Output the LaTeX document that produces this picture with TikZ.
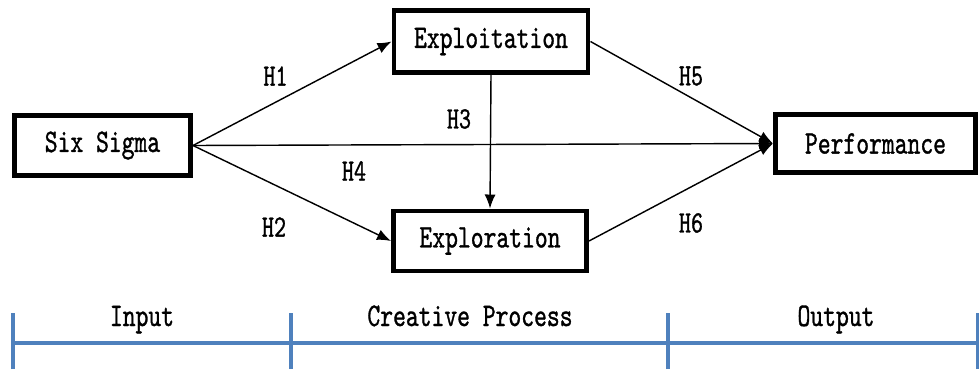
\documentclass[tikz,border=0pt]{standalone}
\usepackage{fontspec}
\newfontfamily\boxfont[Extension=.otf, FakeStretch=0.74, FakeBold=1]{lmmono10-regular}
\usetikzlibrary{arrows.meta}
\definecolor{axisblue}{RGB}{79,129,189}
\tikzset{
	varbox/.style={draw, line width=1.75mm, fill=white, inner sep=0pt, font=\boxfont\fontsize{33}{36}\selectfont},
	hlink/.style={line width=0.5mm, -{Latex[length=14pt, width=11pt]}},
	hlabel/.style={font=\boxfont\fontsize{31}{36}\selectfont},
	phase/.style={anchor=base, font=\boxfont\fontsize{33}{36}\selectfont}
}
\begin{document}
\begin{tikzpicture}[x=1pt, y=-1pt]
			%%%%% FRAME %%%%%
			\useasboundingbox (0, 0) rectangle (979, 373);
			
			%%%%% VARIABLES %%%%%
			\node[varbox, minimum width=176, minimum height=60] (sigma) at (102.5, 145.5) {Six Sigma};
			\node[varbox, minimum width=194, minimum height=62] (exploit) at (491, 41.5) {Exploitation};
			\node[varbox, minimum width=193, minimum height=60] (explore) at (490, 241) {Exploration};
			\node[varbox, minimum width=200, minimum height=58] (perf) at (875.5, 143.5) {Performance};
			
			%%%%% HYPOTHESES %%%%%
			\draw[hlink] (sigma.east) -- (exploit.west);
			\draw[hlink] (sigma.east) -- (explore.west);
			\draw[hlink] (sigma.east) -- (perf.west);
			\draw[hlink] (exploit.south) -- (explore.north);
			\draw[hlink] (exploit.east) -- (perf.west);
			\draw[hlink] (explore.east) -- (perf.west);
			
			\node[hlabel] (h1) at (275.5, 76) {H1};
			\node[hlabel] (h2) at (274, 227) {H2};
			\node[hlabel] (h3) at (459, 119) {H3};
			\node[hlabel] (h4) at (354, 171) {H4};
			\node[hlabel] (h5) at (691, 76) {H5};
			\node[hlabel] (h6) at (691, 223) {H6};
			
			%%%%% PHASES %%%%%
			\coordinate (t0) at (13, 343);
			\coordinate (t1) at (291, 343);
			\coordinate (t2) at (668, 343);
			\coordinate (t3) at (978, 343);
			\draw[line width=1.1mm, color=axisblue] (t0) -- (t3);
			\foreach \t in {t0, t1, t2, t3}
				\draw[line width=1.1mm, color=axisblue] ([yshift=-26]\t) -- ([yshift=30]\t);
			
			\node[phase] (input) at (142, 326) {Input};
			\node[phase] (process) at (470, 326) {Creative Process};
			\node[phase] (output) at (836, 326) {Output};
\end{tikzpicture}
\end{document}
